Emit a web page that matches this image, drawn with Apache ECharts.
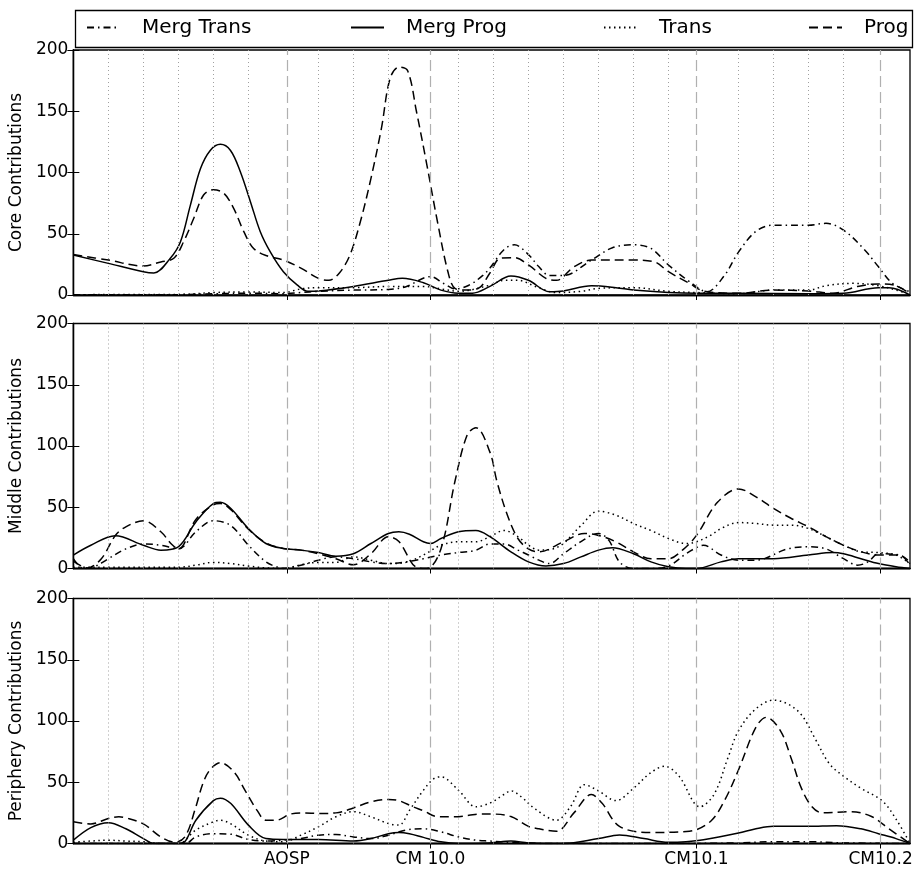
<!DOCTYPE html>
<html>
<head>
<meta charset="utf-8">
<script src="https://cdn.jsdelivr.net/npm/echarts@6/dist/echarts.min.js"></script>
<style>
  html, body { margin: 0; padding: 0; background: #fff; }
  #chart { width: 922px; height: 873px; }
</style>
</head>
<body>
<div id="chart"></div>
<script>
// Names and x-axis markers (x measured in months from the start of the period)
const seriesNames = ['Merg Trans', 'Merg Prog', 'Trans', 'Prog'];
const panelTitles = ['Core Contributions', 'Middle Contributions', 'Periphery Contributions'];
const releaseNames = ['AOSP', 'CM 10.0', 'CM10.1', 'CM10.2'];
const releasePos = [6.1, 10.2, 17.8, 23.06];
const monthLines = [1, 2, 3, 4, 5, 7, 8, 9, 11, 12, 13, 14, 15, 16, 17, 19, 20, 21, 22];
const xMax = 23.9;

// Core panel: [month, contributions]
const coreMergTrans = [[0,0.3],[3,0.3],[4,1],[5,1.5],[6,1],[6.5,2],[7,3],[8,4],[9,4.5],[9.5,6.8],[10.2,15],[10.6,9],[10.9,5],[11.3,8],[11.7,16],[11.9,22],[12.3,37],[12.6,41],[13,33],[13.3,23],[13.6,16],[14,16],[14.8,28.5],[15.4,38.6],[16,41],[16.5,38],[17,24.5],[17.6,11],[18.1,2.7],[18.6,16],[19,35],[19.5,52],[20,57],[21,57],[21.5,58.5],[22,53],[22.6,37],[23,23],[23.4,9.5],[23.9,2.7]];
const coreMergProg = [[0,32.6],[1,25.8],[2,19],[2.3,18],[2.77,30],[3.06,43.5],[3.34,73],[3.63,103],[3.91,118],[4.2,123],[4.49,118],[4.77,100.6],[5.06,76],[5.34,51.7],[5.63,35],[6,19],[6.4,8],[6.7,3],[7,3.3],[8,7],[9,12],[9.4,13.6],[10,10],[10.5,4],[11,1.5],[11.4,1.5],[11.9,7],[12.5,15.5],[13,12],[13.6,2.7],[14,3.3],[14.8,7.5],[15.5,6],[16,4],[17,2],[17.8,1.4],[19,1.4],[21,1],[22,1.4],[23,6],[23.3,6],[23.9,0]];
const coreTrans = [[0,0.3],[3,0.5],[3.5,1],[4,2],[5,2.5],[6,2],[6.5,5],[7,6],[8,6],[9,7],[10,7],[10.5,5],[11,3],[11.9,8],[12.3,12],[12.7,12],[13.2,7],[13.8,2],[14.5,3],[15,5.4],[16,6],[17,3],[17.8,2],[19,1],[20,4],[21,4],[21.5,7.6],[22.3,9.5],[23,7.6],[23.5,4],[23.9,0.5]];
const coreProg = [[0,33],[1,28.5],[2,23.7],[2.5,27],[2.87,30],[3.15,43.5],[3.44,62.6],[3.72,81.6],[4,86],[4.3,83],[4.58,70.7],[4.87,51.7],[5.15,38],[5.53,32],[6,28.5],[6.5,22],[7,13.6],[7.3,12],[7.6,18],[7.9,32.6],[8.2,60],[8.5,95],[8.8,136],[9.05,177],[9.3,186],[9.55,183],[9.8,150],[10.1,106],[10.4,60],[10.7,19],[10.9,5.4],[11.2,4],[11.6,6],[11.9,18],[12.2,30],[12.6,30.5],[13,24.5],[13.5,13.6],[13.8,12],[14.3,23],[14.8,28.5],[16,28.5],[16.6,27],[17,19],[17.6,9.5],[18,3.3],[19,1.4],[20,4],[21,3.3],[21.7,1.4],[22.4,7],[23,9],[23.5,7.6],[23.9,1]];

// Middle panel
const midMergTrans = [[0,8],[0.3,0],[0.6,1.4],[1,8],[1.5,16],[2,20],[2.5,19],[3,16],[3.5,30],[4,39],[4.5,35],[5,19],[5.5,5.4],[5.8,1.4],[6,0],[6.5,2.7],[7,6.8],[7.5,9.5],[8,8],[8.5,5.4],[9,4],[9.5,5.4],[10,8],[10.5,11],[11,13],[11.5,15],[11.9,20],[12.3,20],[12.7,15],[13,11],[13.3,6.8],[13.6,4],[14,12],[14.5,22],[15,28.6],[15.3,23],[15.6,5.4],[16,0],[16.5,0],[17,2],[17.5,12],[17.8,17],[18,19],[18.5,11],[19,6.8],[19.5,6.8],[20.4,16],[21,17.7],[21.5,16],[22,8],[22.4,2.7],[22.7,5.4],[23,12],[23.6,11],[23.9,5.4]];
const midMergProg = [[0,11],[0.5,19],[1.2,26.7],[2,19],[2.5,15],[3,17.7],[3.5,38],[4,53],[4.2,54],[4.5,49],[5,32.6],[5.5,20.4],[6,16.3],[6.5,15],[7,13],[7.5,10],[8,12],[8.5,20.4],[9,28.6],[9.3,30],[9.6,28],[10,21.8],[10.2,20.4],[10.5,24.5],[11,30],[11.5,31],[11.9,26],[12.5,13.6],[13,5.4],[13.5,2],[14,4],[14.5,9.5],[15,15],[15.4,17],[16,12],[16.5,5.4],[17,1.4],[17.5,0],[17.8,0],[18.5,5.4],[19,8],[20,8],[21,11],[21.7,13],[22,12],[22.5,8],[23,4],[23.5,1.4],[23.9,0]];
const midTrans = [[0,1],[3,1],[3.5,2.7],[4,5],[4.5,4],[5,2],[5.5,0.5],[6,0],[6.5,3],[7,5],[7.5,5],[8,9.5],[8.5,6.8],[9,4],[9.5,5],[10,11],[10.5,19],[11,21.8],[11.5,21.8],[11.9,26],[12.3,31],[12.7,26],[13,19],[13.3,15],[13.7,16],[14,20.4],[14.5,35],[15,46.8],[15.5,43.5],[16,36.7],[16.5,31],[17,24.5],[17.5,20.4],[17.8,21.8],[18.2,27],[18.5,32.6],[19,37.5],[19.5,36.7],[20,35.4],[20.5,35.4],[21,32.6],[21.5,26],[22,19],[22.5,13.6],[23,13],[23.5,11],[23.9,4]];
const midProg = [[0,6],[0.4,0.5],[0.8,8],[1.2,27],[1.5,34],[2,39],[2.5,30],[2.8,20],[3,16],[3.5,40],[4,52],[4.2,53],[4.5,48],[5,32],[5.5,21],[6,16.3],[6.5,15],[7,12],[7.5,8],[8,3],[8.5,12],[9,26],[9.3,22],[9.8,1],[10.1,0],[10.5,16],[10.9,71],[11.25,109],[11.5,115],[11.9,95],[12.1,71],[12.4,43.5],[12.7,24.5],[13,16],[13.3,13.6],[14,21.8],[14.6,28.6],[15,27],[15.5,21.8],[16,13.6],[16.5,8],[17,8],[17.4,15],[17.8,27],[18.4,54],[19,65],[19.5,58.5],[20,49],[20.5,41],[21,34],[21.5,26],[22,19],[22.5,13.6],[23,11],[23.6,11],[23.9,2.7]];

// Periphery panel
const perMergTrans = [[0,0],[3.2,0],[3.5,5.4],[4,8],[4.5,7.6],[5,3.3],[5.5,2],[6,2.7],[6.5,4],[7,6.8],[7.5,7.3],[8,5.4],[8.5,4],[9,6.8],[9.5,11],[10,12],[10.5,9.5],[11,5.4],[11.5,2.7],[11.9,2],[12.5,1],[13.5,0],[17,0],[19,0.5],[20,1.5],[21,1.5],[22,0.5],[23.9,0]];
const perMergProg = [[0,2.7],[0.5,13],[1,17],[1.5,12],[2,4],[2.3,0],[3,0],[3.2,2],[3.5,19],[4,35],[4.2,37],[4.5,32.6],[5,15],[5.5,4],[6,3.3],[7,3.3],[8,2],[8.5,4],[9,8],[9.3,9],[9.6,8],[10,5],[10.5,1.4],[11,0],[11.9,0.5],[12.5,2],[13,0.5],[14,0],[15,4],[15.6,7],[16.3,4],[17,1],[17.5,1.5],[18,3],[19,8.5],[19.5,12],[20,14],[21,14],[21.8,14.5],[22.5,12],[23,8],[23.5,4],[23.9,0]];
const perTrans = [[0,1],[0.5,2],[1,2.7],[1.5,2],[2,1.5],[2.5,0],[3,0],[3.5,11],[4,17.7],[4.2,19],[4.5,16],[5,6.8],[5.5,2],[6,1.4],[6.5,6.8],[7,13.6],[7.5,21.8],[8,26],[8.5,21.8],[9,16.3],[9.3,15],[9.6,27],[10,43.5],[10.3,53],[10.5,54.4],[11,43.5],[11.5,30],[11.9,33],[12.3,40],[12.5,43],[12.8,38],[13.2,28],[13.8,19],[14.2,30],[14.6,48],[15,43],[15.5,35],[16,45],[16.5,58],[16.9,63],[17.3,55],[17.9,30],[18.3,40],[18.7,70],[19,92],[19.5,110],[20,117],[20.4,114],[20.8,105],[21.2,85],[21.6,65],[22,55],[22.5,45],[23.1,35],[23.5,20],[23.9,0]];
const perProg = [[0,17.7],[0.5,16],[1,20.4],[1.3,21.8],[1.5,21],[2,16],[2.5,5.4],[2.9,1],[3.2,6],[3.5,30],[3.7,49],[3.9,60],[4.2,66],[4.6,58],[4.9,43.5],[5.25,27],[5.5,19],[5.8,19],[6.2,24],[6.6,25],[7,24.5],[7.5,25],[8,29],[8.5,34],[9,36],[9.3,35],[9.7,30],[10,26.7],[10.4,22],[10.9,21.8],[11.3,23],[11.6,24],[12,24],[12.5,22],[13,14],[13.3,12],[13.8,10],[14.3,25],[14.8,40],[15.1,33],[15.6,14],[16.5,9],[17.6,10],[18.2,18],[18.6,35],[19,60],[19.5,95],[19.8,103],[20.2,92],[20.5,70],[20.8,45],[21.1,30],[21.4,25],[22.2,26],[22.8,22],[23.3,12],[23.9,0]];

const panelData = [
  [coreMergTrans, coreMergProg, coreTrans, coreProg],
  [midMergTrans, midMergProg, midTrans, midProg],
  [perMergTrans, perMergProg, perTrans, perProg]
];

// Dash patterns for each series
const dashFor = {
  'Merg Trans': [7, 4, 1.5, 4],
  'Merg Prog': 'solid',
  'Trans': [1.5, 3.5],
  'Prog': [9, 5]
};

const FONT = 'DejaVu Sans';
const gridTops = [50, 323.5, 598.5];
const gridH = 245;
const legendLeft = [86, 350, 603, 808];

const grids = [], xAxes = [], yAxes = [], series = [];

gridTops.forEach((top, p) => {
  grids.push({
    left: 73, right: 12, top: top, height: gridH,
    show: true, borderColor: '#000', borderWidth: 1.3, backgroundColor: 'transparent'
  });
  const isLast = p === gridTops.length - 1;
  // bottom x axis
  xAxes.push({
    type: 'value', gridIndex: p, position: 'bottom', min: 0, max: xMax,
    axisLine: { show: true, lineStyle: { color: '#000', width: 1.3 } },
    axisTick: { show: true, inside: true, length: 5, customValues: releasePos, lineStyle: { color: '#000', width: 1 } },
    axisLabel: {
      show: isLast, customValues: releasePos, margin: 8,
      fontFamily: FONT, fontSize: 17, color: '#000',
      formatter: v => releaseNames[releasePos.indexOf(v)] || ''
    },
    splitLine: { show: false }
  });
  // top x axis (ticks only)
  xAxes.push({
    type: 'value', gridIndex: p, position: 'top', min: 0, max: xMax,
    axisLine: { show: true, lineStyle: { color: '#000', width: 1.3 } },
    axisTick: { show: true, inside: true, length: 5, customValues: releasePos, lineStyle: { color: '#000', width: 1 } },
    axisLabel: { show: false },
    splitLine: { show: false }
  });
  // left y axis
  yAxes.push({
    type: 'value', gridIndex: p, position: 'left', min: 0, max: 200, interval: 50,
    name: panelTitles[p], nameLocation: 'middle', nameRotate: 90, nameGap: 37,
    nameTextStyle: { fontFamily: FONT, fontSize: 17, color: '#000' },
    axisLine: { show: true, lineStyle: { color: '#000', width: 1.3 } },
    axisTick: { show: true, inside: true, length: 6, lineStyle: { color: '#000', width: 1 } },
    axisLabel: { fontFamily: FONT, fontSize: 17, color: '#000', margin: 5 },
    splitLine: { show: false }
  });
  // right y axis (ticks only)
  yAxes.push({
    type: 'value', gridIndex: p, position: 'right', min: 0, max: 200, interval: 50,
    axisLine: { show: true, lineStyle: { color: '#000', width: 1.3 } },
    axisTick: { show: true, inside: true, length: 6, lineStyle: { color: '#000', width: 1 } },
    axisLabel: { show: false },
    splitLine: { show: false }
  });

  // month guides (dotted) and release guides (dashed)
  series.push({
    type: 'line', xAxisIndex: 2 * p, yAxisIndex: 2 * p, data: [], silent: true, z: 1,
    markLine: {
      silent: true, symbol: ['none', 'none'], animation: false,
      label: { show: false },
      emphasis: { disabled: true },
      data: monthLines.map(m => ({ xAxis: m, lineStyle: { type: [1, 3], color: '#a0a0a0', width: 1 } }))
        .concat(releasePos.map(r => ({ xAxis: r, lineStyle: { type: [11, 5], color: '#b0b0b0', width: 1.2 } })))
    }
  });

  seriesNames.forEach((name, i) => {
    series.push({
      name: name, type: 'line', xAxisIndex: 2 * p, yAxisIndex: 2 * p,
      data: panelData[p][i], smooth: 0.35, symbol: 'none', showSymbol: false,
      clip: true, silent: true, z: 3,
      lineStyle: { color: '#000', width: 1.5, type: dashFor[name] },
      itemStyle: { color: '#000' },
      emphasis: { disabled: true }
    });
  });
});

const legends = seriesNames.map((name, i) => ({
  data: [name], left: legendLeft[i], top: 17.5, padding: 0,
  itemWidth: 33, itemHeight: 16, selectedMode: false,
  itemStyle: { color: 'rgba(0,0,0,0)', borderWidth: 0, opacity: 0 },
  textStyle: { fontFamily: FONT, fontSize: 20, color: '#000', padding: [0, 0, 0, 17] }
}));

const chart = echarts.init(document.getElementById('chart'), null, { renderer: 'canvas' });
chart.setOption({
  animation: false,
  backgroundColor: '#fff',
  legend: legends,
  graphic: [{
    type: 'rect', left: 73, top: 8, silent: true,
    shape: { width: 837, height: 37 },
    style: { fill: 'none', stroke: '#000', lineWidth: 1.3 }
  }],
  grid: grids,
  xAxis: xAxes,
  yAxis: yAxes,
  series: series
});
</script>
</body>
</html>
